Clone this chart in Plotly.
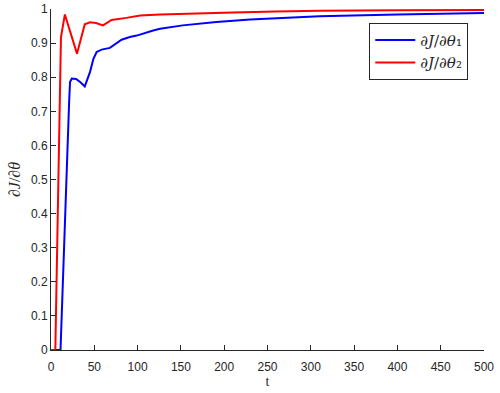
import plotly.graph_objects as go

# dJ/dtheta_1 (blue)
t_blue = [0, 11, 21, 22, 24, 29, 34, 39, 45, 49, 52.7, 58.5, 68, 74, 81.5, 91, 99,
          118, 126, 152, 191, 230, 268, 310, 400, 500]
dj_theta1 = [0, 0, 0.732, 0.786, 0.796, 0.795, 0.785, 0.773, 0.815, 0.854, 0.874, 0.881,
             0.886, 0.896, 0.910, 0.918, 0.922, 0.937, 0.942, 0.952, 0.962, 0.969, 0.974,
             0.979, 0.984, 0.988]

# dJ/dtheta_2 (red)
t_red = [0, 5, 11.5, 16, 30, 35, 39, 45, 52, 60, 70, 87, 103, 126, 160, 210, 260, 310,
         400, 500]
dj_theta2 = [0, 0, 0.917, 0.984, 0.869, 0.915, 0.955, 0.961, 0.959, 0.952, 0.968, 0.974,
             0.981, 0.984, 0.987, 0.990, 0.993, 0.995, 0.996, 0.997]

x_ticks = list(range(0, 501, 50))
y_ticks = [0, 0.1, 0.2, 0.3, 0.4, 0.5, 0.6, 0.7, 0.8, 0.9, 1]

serif = "Liberation Serif, DejaVu Serif, serif"
wide_serif = "DejaVu Serif, serif"
sans = "Liberation Sans, Arial, sans-serif"

fig = go.Figure()
fig.add_trace(go.Scatter(x=t_blue, y=dj_theta1, mode="lines",
                         line=dict(color="#0000ff", width=2),
                         name="<i>∂J</i>/<i>∂θ</i>₁"))
fig.add_trace(go.Scatter(x=t_red, y=dj_theta2, mode="lines",
                         line=dict(color="#ff0000", width=2),
                         name="<i>∂J</i>/<i>∂θ</i>₂"))

fig.update_layout(
    width=500, height=393,
    margin=dict(l=51, r=16, t=8.5, b=42.5),
    paper_bgcolor="white", plot_bgcolor="white",
    font=dict(family=sans, size=12, color="#262626"),
    legend=dict(x=0.735, y=0.96, xanchor="left", yanchor="top",
                bordercolor="#262626", borderwidth=1, bgcolor="white",
                font=dict(family=wide_serif, size=15, color="#262626"),
                itemwidth=40, tracegroupgap=0),
    xaxis=dict(range=[0, 500], tickvals=x_ticks, ticks="inside", ticklen=5,
               tickcolor="#262626", showline=True, linecolor="#262626",
               linewidth=1, showgrid=False, zeroline=False, automargin=False,
               ticklabelstandoff=6,
               title=dict(text="t", font=dict(family=serif, size=14), standoff=2)),
    yaxis=dict(range=[0, 1], tickvals=y_ticks, ticks="inside", ticklen=5,
               tickcolor="#262626", showline=True, linecolor="#262626",
               linewidth=1, showgrid=False, zeroline=False, automargin=False,
               title=dict(text="<i>∂J</i>/<i>∂θ</i>",
                          font=dict(family=serif, size=16), standoff=6)),
)

# the page body has a default 8px margin; drop it so the figure sits at 0,0
fig.write_html("out.html", config={"displayModeBar": False},
               post_script="document.body.style.margin='0px';")
